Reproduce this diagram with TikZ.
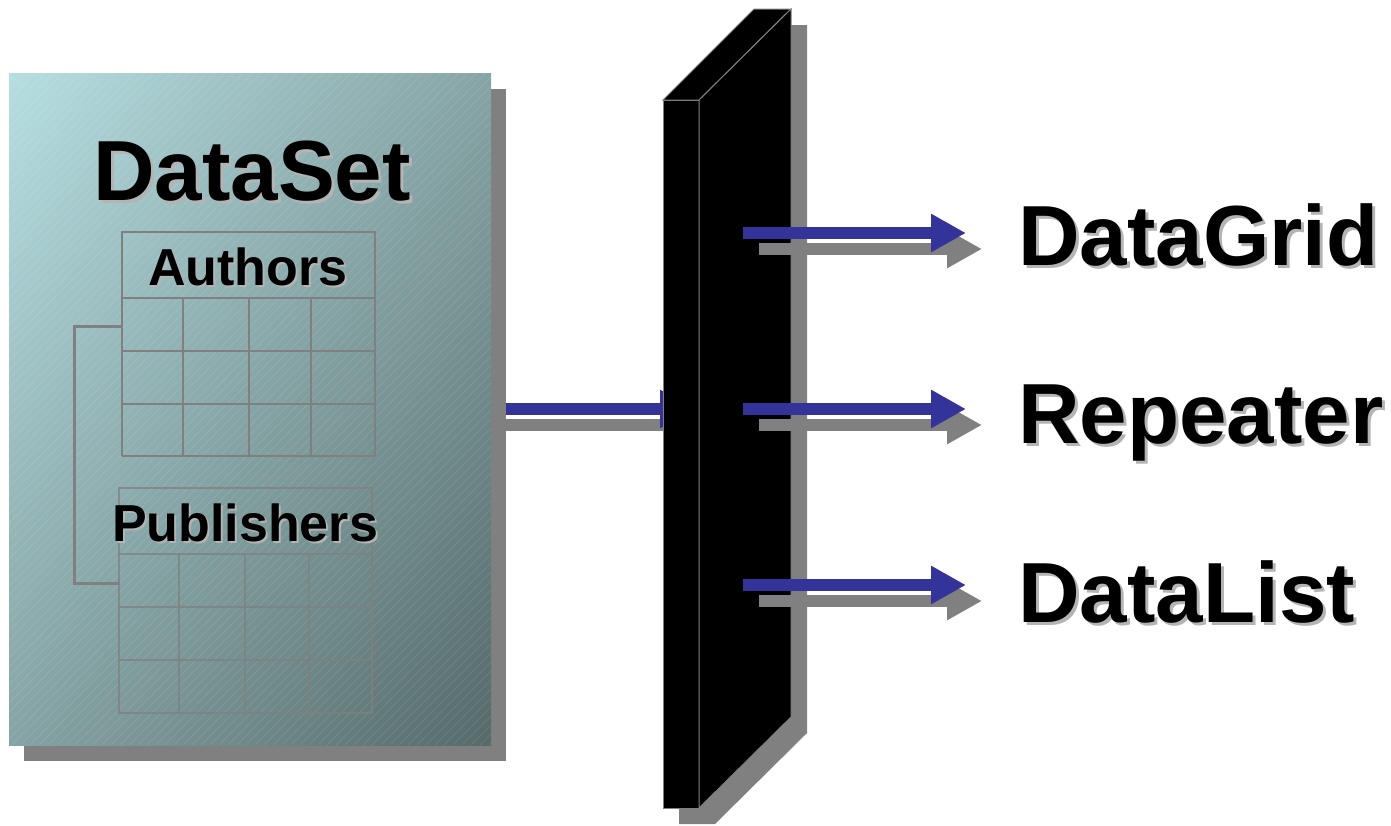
\documentclass[tikz,border=0pt]{standalone}
\usepackage{fontspec}
\setmainfont{Liberation Sans}
\usetikzlibrary{arrows.meta,shadings}

\definecolor{arrowblue}{RGB}{51,51,153}
\definecolor{shadowgray}{RGB}{128,128,128}
\definecolor{textshadow}{RGB}{180,180,180}
\definecolor{dsLight}{RGB}{182,222,225}
\definecolor{dsMid}{RGB}{134,164,165}
\definecolor{dsDark}{RGB}{86,106,106}

% text with a light drop shadow
\newcommand{\shadowtext}[2][2.25pt]{\rlap{\hspace{#1}\raisebox{-#1}{\color{textshadow}#2}}#2}

\tikzset{
  bigtext/.style={font=\bfseries\fontsize{64}{70}\selectfont, inner sep=0pt},
  tabletext/.style={font=\bfseries\fontsize{39}{44}\selectfont, inner sep=0pt},
  gridline/.style={draw=shadowgray, line width=1.5pt},
  bluearrow/.style={arrowblue, line width=9pt, -{Triangle[length=26.25pt,width=27pt]}},
  shadowarrow/.style={shadowgray, line width=9pt, -{Triangle[length=26.25pt,width=27pt]}},
}

\begin{document}
\begin{tikzpicture}[x=0.75pt,y=0.75pt,yscale=-1,xscale=1]
\useasboundingbox (0,0) rectangle (1391,825);

% Arrow DataSet -> slab
\coordinate (dsOut) at (491,409);
\coordinate (slabIn) at (695,409);
\coordinate (dsOutS) at (491,425);
\coordinate (slabInS) at (711,425);
\draw [shadowarrow] (dsOutS) -- (slabInS);
\draw [bluearrow] (dsOut) -- (slabIn);

%Shape: DataSet box with shadow
\fill [shadowgray] (24,89) rectangle (506,761);
\shade [upper left=dsLight, upper right=dsMid, lower left=dsMid, lower right=dsDark] (9,73) rectangle (491,745);
\begin{scope}
\clip (9,73) rectangle (491,745);
\foreach \k in {9,18,...,1163}
  \draw [white, opacity=0.13, line width=0.4pt] (\k,73) -- ++(-672,672);
\end{scope}

%Shape: Authors table
\draw [gridline] (122,232) rectangle (375,298);
\foreach \x in {122,183,249,311,375}
  \draw [gridline] (\x,298) -- (\x,456);
\foreach \y in {351,404,456}
  \draw [gridline] (122,\y) -- (375,\y);

%Shape: Publishers table
\begin{scope}[opacity=0.75]
\draw [gridline] (119,488) rectangle (372,554);
\foreach \x in {119,179,245,309,372}
  \draw [gridline] (\x,554) -- (\x,713);
\foreach \y in {607,660,713}
  \draw [gridline] (119,\y) -- (372,\y);
\end{scope}

%Straight Lines: relation bracket
\draw [shadowgray, line width=2.25pt] (122,326) -- (74,326) -- (74,583) -- (120,583);

% Text Node
\node [bigtext, anchor=base] (ds) at (252,200) {\shadowtext{DataSet}};
% Text Node
\node [tabletext, anchor=base] (authors) at (248,285) {\shadowtext[1.5pt]{Authors}};
% Text Node
\node [tabletext, anchor=base] (publishers) at (245,541) {\shadowtext[1.5pt]{Publishers}};

%Shape: slab with shadow
\fill [shadowgray] (679,116) -- (770,25) -- (807,25) -- (807,733) -- (715,824) -- (679,824) -- cycle;
\filldraw [fill=black, draw=shadowgray, line width=0.75pt] (663,100) rectangle (699,808);
\filldraw [fill=black, draw=shadowgray, line width=0.75pt] (663,100) -- (754,9) -- (791,9) -- (699,100) -- cycle;
\filldraw [fill=black, draw=shadowgray, line width=0.75pt] (699,100) -- (791,9) -- (791,717) -- (699,808) -- cycle;

% Text Node
\node [bigtext, anchor=base west] (grid) at (1018,265) {\shadowtext{DataGrid}};
% Text Node
\node [bigtext, anchor=base west] (repeater) at (1018,443) {\shadowtext{Repeater}};
% Text Node
\node [bigtext, anchor=base west] (list) at (1018,622) {\shadowtext{DataList}};

% Arrows slab -> controls
\coordinate (gridTail) at (743,233);
\coordinate (gridTip) at (966,233);
\coordinate (repeaterTail) at (743,409);
\coordinate (repeaterTip) at (966,409);
\coordinate (listTail) at (743,585);
\coordinate (listTip) at (966,585);
\foreach \t/\h in {gridTail/gridTip, repeaterTail/repeaterTip, listTail/listTip}{
  \draw [shadowarrow] ([xshift=12pt,yshift=12pt]\t) -- ([xshift=12pt,yshift=12pt]\h);
  \draw [bluearrow] (\t) -- (\h);
}

\end{tikzpicture}
\end{document}
